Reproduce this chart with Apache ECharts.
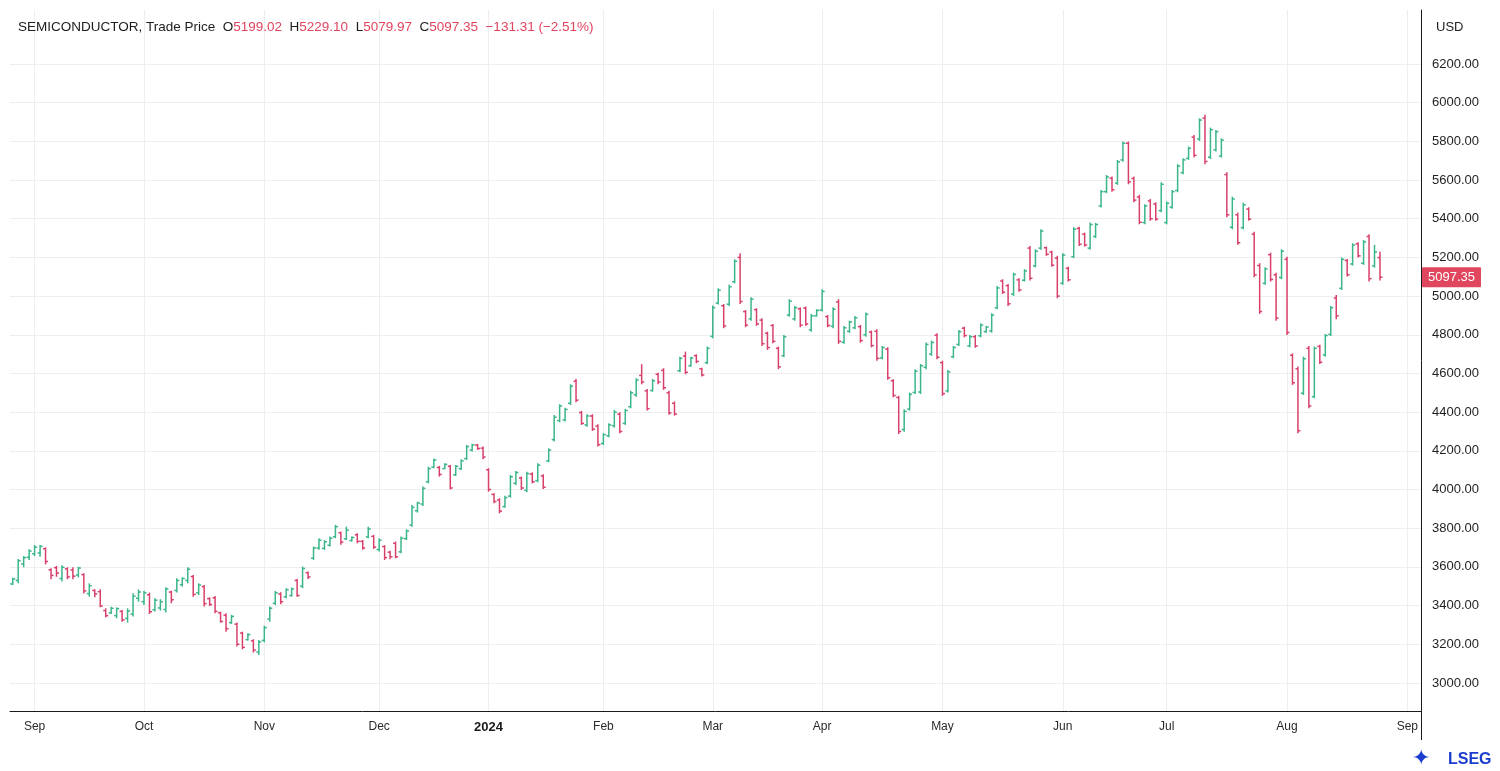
<!DOCTYPE html>
<html>
<head>
<meta charset="utf-8">
<title>SEMICONDUCTOR</title>
<script src="https://cdn.jsdelivr.net/npm/echarts@6/dist/echarts.min.js"></script>
<style>
  html, body { margin: 0; padding: 0; background: #fff; }
  #main { width: 1500px; height: 771px; }
</style>
</head>
<body>
<div id="main"></div>
<script>
// trading days, month by month (last three are empty days after the data)
var tradingDays = [
  ['2023-08', [28, 29, 30, 31]],
  ['2023-09', [1, 5, 6, 7, 8, 11, 12, 13, 14, 15, 18, 19, 20, 21, 22, 25, 26, 27, 28, 29]],
  ['2023-10', [2, 3, 4, 5, 6, 9, 10, 11, 12, 13, 16, 17, 18, 19, 20, 23, 24, 25, 26, 27, 30, 31]],
  ['2023-11', [1, 2, 3, 6, 7, 8, 9, 10, 13, 14, 15, 16, 17, 20, 21, 22, 24, 27, 28, 29, 30]],
  ['2023-12', [1, 4, 5, 6, 7, 8, 11, 12, 13, 14, 15, 18, 19, 20, 21, 22, 26, 27, 28, 29]],
  ['2024-01', [2, 3, 4, 5, 8, 9, 10, 11, 12, 16, 17, 18, 19, 22, 23, 24, 25, 26, 29, 30, 31]],
  ['2024-02', [1, 2, 5, 6, 7, 8, 9, 12, 13, 14, 15, 16, 20, 21, 22, 23, 26, 27, 28, 29]],
  ['2024-03', [1, 4, 5, 6, 7, 8, 11, 12, 13, 14, 15, 18, 19, 20, 21, 22, 25, 26, 27, 28]],
  ['2024-04', [1, 2, 3, 4, 5, 8, 9, 10, 11, 12, 15, 16, 17, 18, 19, 22, 23, 24, 25, 26, 29, 30]],
  ['2024-05', [1, 2, 3, 6, 7, 8, 9, 10, 13, 14, 15, 16, 17, 20, 21, 22, 23, 24, 28, 29, 30, 31]],
  ['2024-06', [3, 4, 5, 6, 7, 10, 11, 12, 13, 14, 17, 18, 20, 21, 24, 25, 26, 27, 28]],
  ['2024-07', [1, 2, 3, 5, 8, 9, 10, 11, 12, 15, 16, 17, 18, 19, 22, 23, 24, 25, 26, 29, 30, 31]],
  ['2024-08', [1, 2, 5, 6, 7, 8, 9, 12, 13, 14, 15, 16, 19, 20, 21, 22, 23, 26, 27, 28, 29, 30]],
  ['2024-09', [3, 4, 5]]
];

var opens = [
  3512, 3530, 3615, 3650,
  3668, 3672, 3694, 3585, 3596, 3540, 3590, 3584, 3558, 3560, 3462, 3478, 3472, 3374, 3362, 3348, 3370, 3334, 3356, 3438,
  3420, 3456, 3378, 3388, 3380, 3470, 3478, 3508, 3530, 3550, 3466, 3498, 3436, 3440, 3362, 3350, 3312, 3304, 3258, 3224, 3218, 3160,
  3220, 3330, 3412, 3460, 3445, 3452, 3530, 3500, 3570, 3645, 3698, 3696, 3712, 3756, 3776, 3745, 3736, 3766, 3732, 3755, 3758,
  3690, 3705, 3676, 3722, 3678, 3746, 3816, 3890, 3925, 4040, 4116, 4114, 4108, 4120, 4076, 4108, 4160, 4204, 4230, 4214,
  4102, 3975, 3946, 3912, 3966, 4032, 4060, 3996, 4080, 4046, 4070, 4148, 4258, 4356, 4360, 4446, 4560, 4398, 4334, 4380, 4328,
  4238, 4278, 4330, 4390, 4342, 4428, 4490, 4590, 4510, 4512, 4596, 4616, 4500, 4446, 4614, 4690, 4640, 4692, 4624, 4656,
  4792, 4964, 4950, 4958, 5074, 5200, 4920, 4882, 4930, 4876, 4808, 4848, 4730, 4692, 4902, 4882, 4934, 4938, 4826, 4898,
  4928, 4894, 4844, 4970, 4762, 4818, 4836, 4842, 4800, 4814, 4818, 4680, 4726, 4562, 4476, 4310, 4416, 4502, 4504, 4632, 4700, 4798,
  4656, 4510, 4686, 4750, 4834, 4742, 4790, 4795, 4816, 4820, 4940, 5078, 5054, 5010, 5084, 5082, 5248, 5156, 5248, 5250, 5228, 5196,
  5066, 5144, 5204, 5350, 5320, 5248, 5308, 5466, 5540, 5610, 5584, 5704, 5790, 5608, 5512, 5380, 5492, 5476, 5442,
  5380, 5460, 5546, 5638, 5712, 5822, 5812, 5920, 5718, 5756, 5724, 5628, 5356, 5420, 5354, 5450, 5320, 5158, 5066, 5214, 5110, 5096,
  5190, 4694, 4624, 4498, 4730, 4480, 4740, 4696, 4802, 4990, 5040, 5184, 5166, 5270, 5170, 5308, 5156, 5199.02
];
var highs = [
  3544, 3641, 3656, 3691,
  3713, 3713, 3701, 3593, 3605, 3608, 3598, 3598, 3601, 3567, 3515, 3484, 3484, 3386, 3394, 3391, 3377, 3386, 3464, 3484,
  3477, 3467, 3438, 3433, 3495, 3477, 3541, 3546, 3598, 3558, 3515, 3507, 3443, 3450, 3369, 3360, 3352, 3312, 3265, 3257, 3226, 3222,
  3296, 3395, 3476, 3469, 3490, 3493, 3538, 3601, 3576, 3705, 3748, 3739, 3757, 3817, 3783, 3808, 3757, 3774, 3739, 3808, 3765,
  3748, 3712, 3684, 3731, 3757, 3794, 3920, 3937, 4015, 4118, 4161, 4122, 4136, 4127, 4127, 4156, 4230, 4236, 4236, 4222,
  4110, 3981, 3955, 3968, 4075, 4096, 4067, 4092, 4089, 4136, 4079, 4213, 4385, 4441, 4423, 4544, 4572, 4406, 4389, 4389, 4337,
  4291, 4343, 4411, 4399, 4417, 4510, 4575, 4648, 4520, 4572, 4604, 4627, 4510, 4455, 4687, 4713, 4687, 4699, 4630, 4739,
  4951, 5040, 4959, 5058, 5190, 5221, 4928, 4994, 4937, 4885, 4816, 4856, 4739, 4799, 4984, 4949, 4942, 4946, 4908, 4932,
  5035, 4902, 4942, 4984, 4846, 4873, 4897, 4851, 4915, 4822, 4828, 4742, 4735, 4570, 4484, 4415, 4501, 4622, 4649, 4760, 4770, 4808,
  4666, 4618, 4742, 4825, 4842, 4799, 4799, 4859, 4846, 4911, 5052, 5087, 5063, 5121, 5092, 5139, 5259, 5242, 5345, 5256, 5235, 5208,
  5221, 5152, 5356, 5359, 5328, 5380, 5378, 5549, 5626, 5618, 5704, 5799, 5799, 5618, 5523, 5475, 5502, 5485, 5588,
  5489, 5549, 5682, 5713, 5773, 5833, 5919, 5937, 5871, 5859, 5816, 5640, 5514, 5432, 5483, 5459, 5333, 5170, 5149, 5225, 5121, 5242,
  5204, 4704, 4636, 4687, 4742, 4739, 4748, 4804, 4949, 5005, 5199, 5192, 5273, 5278, 5290, 5320, 5265, 5229.10
];
var lows = [
  3506, 3515, 3598, 3636,
  3656, 3653, 3613, 3536, 3549, 3524, 3536, 3536, 3546, 3463, 3446, 3443, 3391, 3339, 3356, 3334, 3317, 3312, 3343, 3420,
  3403, 3357, 3369, 3374, 3364, 3412, 3467, 3498, 3515, 3446, 3455, 3395, 3398, 3360, 3312, 3265, 3305, 3188, 3174, 3219, 3157, 3145,
  3210, 3317, 3403, 3407, 3438, 3446, 3446, 3490, 3538, 3636, 3688, 3688, 3705, 3748, 3714, 3739, 3731, 3722, 3688, 3748, 3693,
  3679, 3636, 3639, 3645, 3670, 3739, 3808, 3881, 3915, 4032, 4110, 4067, 4105, 4001, 4070, 4101, 4153, 4196, 4205, 4156,
  3989, 3929, 3877, 3906, 3958, 4024, 3998, 3986, 4032, 4037, 4003, 4141, 4248, 4348, 4351, 4437, 4451, 4334, 4325, 4303, 4222,
  4230, 4270, 4320, 4291, 4334, 4420, 4480, 4544, 4408, 4506, 4544, 4515, 4386, 4382, 4606, 4596, 4635, 4653, 4584, 4648,
  4782, 4956, 4834, 4949, 5066, 4959, 4839, 4873, 4846, 4742, 4722, 4756, 4622, 4684, 4894, 4873, 4839, 4846, 4816, 4894,
  4920, 4839, 4834, 4753, 4753, 4810, 4828, 4759, 4790, 4735, 4666, 4673, 4567, 4477, 4287, 4299, 4408, 4494, 4494, 4622, 4691, 4673,
  4484, 4501, 4679, 4742, 4787, 4735, 4733, 4787, 4811, 4811, 4932, 5011, 4949, 5001, 5023, 5075, 5080, 5149, 5239, 5208, 5152, 4989,
  5058, 5075, 5196, 5259, 5256, 5239, 5300, 5458, 5532, 5540, 5575, 5695, 5578, 5485, 5371, 5371, 5389, 5389, 5433,
  5371, 5451, 5537, 5630, 5704, 5716, 5802, 5682, 5709, 5747, 5716, 5407, 5345, 5265, 5345, 5390, 5097, 4908, 5058, 5075, 4873, 5087,
  4799, 4541, 4291, 4489, 4420, 4472, 4649, 4687, 4794, 4880, 5032, 5101, 5158, 5199, 5161, 5075, 5147, 5079.97
];
var closes = [
  3538, 3632, 3648, 3682,
  3702, 3706, 3628, 3556, 3568, 3598, 3548, 3552, 3594, 3476, 3502, 3460, 3398, 3348, 3386, 3384, 3326, 3372, 3448, 3470,
  3466, 3368, 3428, 3420, 3486, 3430, 3530, 3540, 3588, 3458, 3506, 3410, 3406, 3370, 3318, 3280, 3344, 3200, 3184, 3250, 3170, 3212,
  3286, 3386, 3466, 3420, 3482, 3486, 3452, 3592, 3548, 3698, 3738, 3730, 3748, 3808, 3728, 3790, 3752, 3732, 3698, 3796, 3702,
  3738, 3648, 3652, 3652, 3748, 3786, 3908, 3930, 4006, 4108, 4152, 4078, 4130, 4008, 4120, 4148, 4222, 4230, 4212, 4168,
  4000, 3938, 3888, 3958, 4066, 4088, 4008, 4082, 4040, 4126, 4012, 4204, 4374, 4432, 4414, 4534, 4462, 4342, 4380, 4312, 4232,
  4284, 4334, 4400, 4300, 4408, 4500, 4566, 4556, 4418, 4562, 4556, 4526, 4396, 4390, 4678, 4606, 4680, 4662, 4592, 4730,
  4940, 5030, 4846, 5048, 5180, 4972, 4850, 4984, 4856, 4754, 4734, 4766, 4634, 4790, 4974, 4940, 4850, 4856, 4898, 4926,
  5024, 4848, 4932, 4766, 4836, 4866, 4888, 4770, 4906, 4744, 4678, 4734, 4578, 4486, 4300, 4404, 4492, 4612, 4640, 4750, 4760, 4684,
  4496, 4608, 4734, 4816, 4796, 4790, 4742, 4850, 4840, 4902, 5042, 5020, 4960, 5112, 5032, 5130, 5092, 5232, 5336, 5216, 5160, 5000,
  5212, 5084, 5346, 5268, 5264, 5370, 5370, 5540, 5616, 5550, 5694, 5790, 5590, 5496, 5382, 5466, 5400, 5398, 5578,
  5480, 5540, 5672, 5704, 5764, 5728, 5910, 5696, 5860, 5850, 5806, 5420, 5502, 5276, 5472, 5398, 5110, 4920, 5140, 5086, 4886, 5232,
  4812, 4552, 4304, 4676, 4432, 4730, 4658, 4796, 4940, 4898, 5190, 5110, 5264, 5208, 5280, 5090, 5228.66, 5097.35
];

var yTicks = [3000, 3200, 3400, 3600, 3800, 4000, 4200, 4400, 4600, 4800, 5000, 5200, 5400, 5600, 5800, 6000, 6200];
var monthNames = ['Jan', 'Feb', 'Mar', 'Apr', 'May', 'Jun', 'Jul', 'Aug', 'Sep', 'Oct', 'Nov', 'Dec'];
var lastPrice = 5097.35;

var UP = '#3ab688';
var DOWN = '#d8406a';
var FONT = '"Liberation Sans", Arial, sans-serif';

// categories + month start flags
var dates = [];
var monthStart = [];
tradingDays.forEach(function (m) {
  m[1].forEach(function (d, k) {
    dates.push(m[0] + '-' + (d < 10 ? '0' + d : d));
    monthStart.push(k === 0 && m[0] !== '2023-08');
  });
});

var ohlc = opens.map(function (o, i) {
  return [i, o, highs[i], lows[i], closes[i]];
});

function renderOhlc(params, api) {
  var x = api.value(0);
  var o = api.value(1), c = api.value(4);
  var po = api.coord([x, o]);
  var ph = api.coord([x, api.value(2)]);
  var pl = api.coord([x, api.value(3)]);
  var pc = api.coord([x, c]);
  var color = c >= o ? UP : DOWN;
  var st = { stroke: color, lineWidth: 1.5 };
  return {
    type: 'group',
    children: [
      { type: 'line', shape: { x1: ph[0], y1: ph[1], x2: pl[0], y2: pl[1] }, style: st },
      { type: 'line', shape: { x1: po[0] - 2.5, y1: po[1], x2: po[0], y2: po[1] }, style: st },
      { type: 'line', shape: { x1: pc[0], y1: pc[1], x2: pc[0] + 2.5, y2: pc[1] }, style: st }
    ]
  };
}

var chart = echarts.init(document.getElementById('main'));

var option = {
  backgroundColor: '#fff',
  animation: false,
  title: {
    left: 18,
    top: 20,
    padding: 0,
    text: '{n|SEMICONDUCTOR, Trade Price}  {k|O}{v|5199.02}  {k|H}{v|5229.10}  {k|L}{v|5079.97}  {k|C}{v|5097.35}  {v|\u2212131.31 (\u22122.51%)}',
    textStyle: {
      fontFamily: FONT,
      fontSize: 13.5,
      fontWeight: 'normal',
      rich: {
        n: { fontFamily: FONT, fontSize: 13.5, color: '#1c1c1c' },
        k: { fontFamily: FONT, fontSize: 13.5, color: '#1c1c1c' },
        v: { fontFamily: FONT, fontSize: 13.5, color: '#e0445f' }
      }
    }
  },
  grid: { left: 10, right: 79, top: 10, bottom: 60 },
  xAxis: {
    type: 'category',
    data: dates,
    boundaryGap: true,
    axisLine: { lineStyle: { color: '#1a1a1a', width: 1 } },
    axisTick: { show: false },
    axisLabel: {
      interval: function (i) { return monthStart[i]; },
      margin: 10,
      fontFamily: FONT,
      fontSize: 12,
      color: '#2a2a2a',
      formatter: function (v) {
        var m = +v.slice(5, 7);
        if (m === 1) return '{b|' + v.slice(0, 4) + '}';
        return monthNames[m - 1];
      },
      rich: { b: { fontFamily: FONT, fontSize: 13, fontWeight: 'bold', color: '#1a1a1a' } }
    },
    splitLine: {
      show: true,
      alignWithLabel: true,
      interval: function (i) { return monthStart[i]; },
      lineStyle: { color: '#eeeeee', width: 1 }
    }
  },
  yAxis: {
    type: 'value',
    position: 'right',
    min: 2855,
    max: 6479,
    axisLine: { show: true, lineStyle: { color: '#1a1a1a', width: 1 } },
    axisTick: { show: false, customValues: yTicks },
    axisLabel: {
      customValues: yTicks,
      margin: 11,
      fontFamily: FONT,
      fontSize: 13,
      color: '#1f1f1f',
      formatter: function (v) { return v.toFixed(2); }
    },
    splitLine: { show: true, lineStyle: { color: '#eeeeee', width: 1 } }
  },
  series: [{
    type: 'custom',
    name: 'SEMICONDUCTOR',
    renderItem: renderOhlc,
    encode: { x: 0, y: [1, 2, 3, 4] },
    data: ohlc,
    markLine: {
      silent: true,
      symbol: 'none',
      lineStyle: { color: 'rgba(0,0,0,0)', width: 0 },
      label: {
        position: 'end',
        distance: 1,
        formatter: lastPrice.toFixed(2),
        color: '#fff',
        backgroundColor: '#e0475f',
        padding: [4, 6, 3, 6],
        borderRadius: 1,
        fontFamily: FONT,
        fontSize: 13
      },
      data: [{ yAxis: lastPrice }]
    }
  }],
  graphic: [
    { type: 'line', shape: { x1: 1421.5, y1: 711, x2: 1421.5, y2: 740 }, style: { stroke: '#1a1a1a', lineWidth: 1 } },
    { type: 'text', left: 1436, top: 21, style: { text: 'USD', font: '13px ' + FONT, fill: '#1f1f1f' } },
    { type: 'text', left: 1448, top: 752, style: { text: 'LSEG', font: 'bold 16px ' + FONT, fill: '#1a3ccf' } },
    { type: 'text', left: 1412, top: 748, style: { text: '\u2726', font: 'bold 22px "DejaVu Sans"', fill: '#1a3ccf' } }
  ]
};

chart.setOption(option);
</script>
</body>
</html>
